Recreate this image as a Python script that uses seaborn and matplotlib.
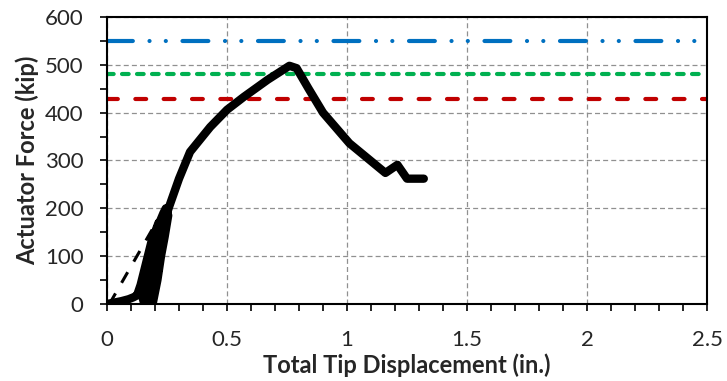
import numpy as np
import pandas as pd
import matplotlib
matplotlib.use("Agg")
import matplotlib.pyplot as plt
from matplotlib.ticker import MultipleLocator
import seaborn as sns

# main test curve (cyclic loops at start, then monotonic push)
disp = [0, 0.03, 0.06, 0.09, 0.11, 0.125,
        0.14, 0.16, 0.175, 0.19, 0.198, 0.205, 0.205, 0.195, 0.175,
        0.155, 0.145, 0.165, 0.18, 0.20, 0.215, 0.225, 0.22, 0.21, 0.19, 0.18,
        0.16, 0.15, 0.17, 0.19, 0.21, 0.235, 0.245, 0.255, 0.24, 0.225, 0.21, 0.19,
        0.175, 0.185, 0.20, 0.22, 0.24, 0.26, 0.30, 0.346, 0.43, 0.50,
        0.57, 0.67, 0.76, 0.79, 0.84, 0.90, 1.01, 1.16, 1.21, 1.25, 1.32]
force = [0, 3, 6, 10, 14, 18,
         40, 80, 110, 140, 150, 130, 90, 45, 0,
         0, 20, 75, 110, 150, 170, 150, 100, 60, 20, 0,
         0, 30, 85, 125, 160, 190, 200, 185, 140, 100, 50, 0,
         5, 50, 100, 140, 175, 205, 262, 318, 370, 406,
         433, 469, 498, 493, 450, 400, 336, 274, 291, 262, 262]

# initial stiffness line
stiff_disp = [0.01, 0.20]
stiff_force = [0, 166]

# reference capacity levels (kip)
levels = [550, 481, 428]
level_colors = ["#0070C0", "#00B050", "#C00000"]

curve = pd.DataFrame({"disp": disp, "force": force})
stiff = pd.DataFrame({"disp": stiff_disp, "force": stiff_force})

sns.set_style("white")
plt.rcParams["font.family"] = ["Lato", "DejaVu Sans"]

fig = plt.figure(figsize=(7.27, 3.81), dpi=100)
ax = fig.add_axes([0.1472, 0.2021, 0.8253, 0.7533])

ax.grid(True, which="major", color="#909090", linestyle=(0, (4, 2.5)), linewidth=0.9)
ax.set_axisbelow(True)

# horizontal levels
ln = ax.axhline(levels[0], color=level_colors[0], linewidth=3)
ln.set_dashes([6.2, 4.0, 0.01, 3.9, 0.01, 4.0])
ln.set_dash_capstyle("round")
ln = ax.axhline(levels[1], color=level_colors[1], linewidth=3)
ln.set_dashes([1.6, 2.0])
ln.set_dash_capstyle("round")
ln = ax.axhline(levels[2], color=level_colors[2], linewidth=3)
ln.set_dashes([2.6, 4.2])
ln.set_dash_capstyle("round")

sns.lineplot(data=stiff, x="disp", y="force", sort=False, estimator=None,
             errorbar=None, color="black", linewidth=2.2, ax=ax)
ax.lines[-1].set_dashes([4, 4])
sns.lineplot(data=curve, x="disp", y="force", sort=False, estimator=None,
             errorbar=None, color="black", linewidth=6, ax=ax)
ax.lines[-1].set_solid_capstyle("round")
ax.lines[-1].set_solid_joinstyle("round")

ax.set_xlim(0, 2.5)
ax.set_ylim(0, 600)
ax.xaxis.set_major_locator(MultipleLocator(0.5))
ax.xaxis.set_minor_locator(MultipleLocator(0.1))
ax.yaxis.set_major_locator(MultipleLocator(100))
ax.yaxis.set_minor_locator(MultipleLocator(50))
ax.set_xticks([0, 0.5, 1, 1.5, 2, 2.5])
ax.set_xticklabels(["0", "0.5", "1", "1.5", "2", "2.5"])
ax.tick_params(which="both", direction="out", length=5, width=1.2, color="black",
               bottom=True, left=True, labelsize=16)
ax.tick_params(axis="y", pad=12)
ax.tick_params(axis="x", pad=14)

for s in ax.spines.values():
    s.set_color("black")
    s.set_linewidth(1.5)

ax.set_xlabel("Total Tip Displacement (in.)", fontsize=17, fontweight="bold", labelpad=2)
ax.set_ylabel("Actuator Force (kip)", fontsize=17, fontweight="bold", labelpad=4)

fig.savefig("out.png", dpi=100)
